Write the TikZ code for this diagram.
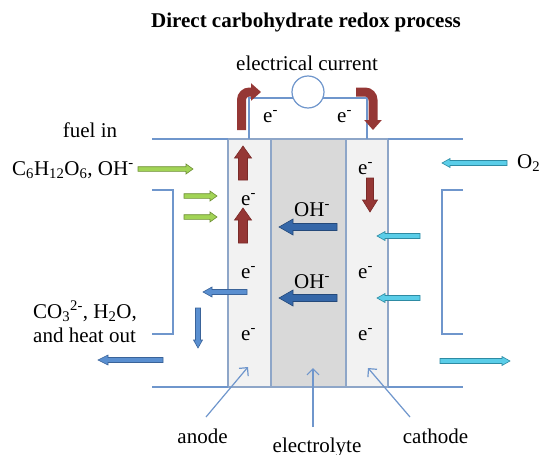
\documentclass[tikz,border=0pt]{standalone}
\usepackage{fontspec}
\setmainfont{Liberation Serif}
\usetikzlibrary{arrows.meta}
\definecolor{wire}{HTML}{6F96CC}
\definecolor{cellb}{HTML}{8EA6C8}
\definecolor{lightc}{HTML}{F2F2F2}
\definecolor{elec}{HTML}{D9D9D9}
\definecolor{redf}{HTML}{953735}
\definecolor{redd}{HTML}{7A2A28}
\definecolor{greenf}{HTML}{A2D456}
\definecolor{greend}{HTML}{6E8F35}
\definecolor{cyanf}{HTML}{5ACDE8}
\definecolor{cyand}{HTML}{2E8BA3}
\definecolor{bluef}{HTML}{5A8FD0}
\definecolor{blued}{HTML}{3A6399}
\definecolor{dbluef}{HTML}{3567A8}
\definecolor{dblued}{HTML}{24497A}
% style, start, angle, length, shaft half width, head half width, head length
\newcommand{\blkarrow}[7]{%
\begin{scope}[shift={#2},rotate=#3]
\filldraw[#1] (0,-#5) -- ({#4-#7},-#5) -- ({#4-#7},-#6) -- (#4,0) -- ({#4-#7},#6) -- ({#4-#7},#5) -- (0,#5) -- cycle;
\end{scope}}
\tikzset{
  txt/.style={font=\fontsize{21}{25}\selectfont, inner sep=0pt},
  wireline/.style={draw=wire, line width=1.2pt},
  cellbox/.style={draw=cellb, line width=1.1pt},
  redarr/.style={fill=redf, draw=redd, line width=0.6pt},
  greenarr/.style={fill=greenf, draw=greend, line width=0.6pt},
  cyanarr/.style={fill=cyanf, draw=cyand, line width=0.6pt},
  bluearr/.style={fill=bluef, draw=blued, line width=0.6pt},
  dbluearr/.style={fill=dbluef, draw=dblued, line width=0.6pt},
  curvedred/.style={draw=redf, line width=9pt, rounded corners=8pt, -{Triangle[width=17pt,length=10pt]}},
  pointer/.style={draw=wire, line width=1.2pt, -{Straight Barb[length=6pt,width=12pt]}}
}
\begin{document}
\begin{tikzpicture}[x=1pt,y=-1pt]
\useasboundingbox (0,0) rectangle (539,455);
% cells
\filldraw[cellbox, fill=lightc] (228,139) rectangle (271,387);
\filldraw[cellbox, fill=elec] (271,139) rectangle (346,387);
\filldraw[cellbox, fill=lightc] (346,139) rectangle (388,387);
% outer walls
\draw[wireline] (152,139) -- (228,139);
\draw[wireline] (388,139) -- (463,139);
\draw[wireline] (152,190) -- (173,190) -- (173,334) -- (152,334);
\draw[wireline] (463,190) -- (442,190) -- (442,334) -- (463,334);
\draw[wireline] (152,387) -- (228,387);
\draw[wireline] (388,387) -- (463,387);
% external circuit
\draw[wireline] (249,139) -- (249,98) -- (367,98) -- (367,139);
\node[circle, draw=wire, line width=1.2pt, fill=white, minimum size=32pt, inner sep=0pt] (meter) at (308,92) {};
% curved red arrows
\draw[curvedred] (241.5,130) |- (261,92);
\draw[curvedred] (356,92) -| (373,130);
% red straight arrows
\blkarrow{redarr}{(243,180)}{90}{34}{4.5}{8.5}{12}
\blkarrow{redarr}{(243,243)}{90}{35}{4.5}{8.5}{12}
\blkarrow{redarr}{(370,178)}{-90}{34}{3.5}{7.5}{12}
% electrolyte arrows
\blkarrow{dbluearr}{(337,227)}{180}{58}{3.5}{8}{14}
\blkarrow{dbluearr}{(337,298)}{180}{58}{3.5}{8}{14}
% green fuel arrows
\blkarrow{greenarr}{(138,169)}{0}{55}{2.3}{5}{7}
\blkarrow{greenarr}{(184,196)}{0}{33}{2.3}{5}{7}
\blkarrow{greenarr}{(184,217)}{0}{33}{2.3}{5}{7}
% cyan oxygen arrows
\blkarrow{cyanarr}{(507,163)}{180}{65}{2.5}{4.5}{8}
\blkarrow{cyanarr}{(420,236)}{180}{43}{2.5}{4.5}{8}
\blkarrow{cyanarr}{(420,298)}{180}{43}{2.5}{4.5}{8}
\blkarrow{cyanarr}{(440,361)}{0}{70}{2.5}{4.5}{8}
% blue exhaust arrows
\blkarrow{bluearr}{(247,292)}{180}{44}{2.5}{5}{9}
\blkarrow{bluearr}{(198,308)}{-90}{40}{2.5}{4.5}{8}
\blkarrow{bluearr}{(163,360)}{180}{65}{2.5}{5}{10}
% texts
\node[txt, font=\fontsize{21}{25}\selectfont\bfseries, anchor=base] (title) at (306,27.5) {Direct carbohydrate redox process};
\node[txt, anchor=base] (current) at (307,70) {electrical current};
\node[txt, anchor=base] (fuelin) at (90,137) {fuel in};
\node[txt, anchor=base west] (fuel) at (12,175) {C\textsubscript{6}H\textsubscript{12}O\textsubscript{6}, OH\textsuperscript{-}};
\node[txt, anchor=base west] (out1) at (33,318) {CO\textsubscript{3}\textsuperscript{2-}, H\textsubscript{2}O,};
\node[txt, anchor=base west] (out2) at (33,342) {and heat out};
\node[txt, anchor=base west] (o2) at (517,168) {O\textsubscript{2}};
\node[txt, anchor=base west] (ew1) at (263,122) {e\textsuperscript{-}};
\node[txt, anchor=base west] (ew2) at (337,122) {e\textsuperscript{-}};
\node[txt, anchor=base west] (ea1) at (241,205) {e\textsuperscript{-}};
\node[txt, anchor=base west] (ea2) at (241,278) {e\textsuperscript{-}};
\node[txt, anchor=base west] (ea3) at (241,340) {e\textsuperscript{-}};
\node[txt, anchor=base west] (ec1) at (358,174) {e\textsuperscript{-}};
\node[txt, anchor=base west] (ec2) at (358,278) {e\textsuperscript{-}};
\node[txt, anchor=base west] (ec3) at (358,340) {e\textsuperscript{-}};
\node[txt, anchor=base west] (oh1) at (294,216) {OH\textsuperscript{-}};
\node[txt, anchor=base west] (oh2) at (294,288) {OH\textsuperscript{-}};
\node[txt, anchor=base] (anode) at (202.5,443) {anode};
\node[txt, anchor=base] (electrolyte) at (317,452) {electrolyte};
\node[txt, anchor=base] (cathode) at (435.5,443) {cathode};
% pointers
\coordinate (anodeS) at (206,417);
\coordinate (anodeT) at (248,367);
\coordinate (elecS) at (313,427);
\coordinate (elecT) at (313,368);
\coordinate (cathS) at (410,417);
\coordinate (cathT) at (368,368);
\draw[pointer] (anodeS) -- (anodeT);
\draw[pointer] (elecS) -- (elecT);
\draw[pointer] (cathS) -- (cathT);
\end{tikzpicture}
\end{document}
